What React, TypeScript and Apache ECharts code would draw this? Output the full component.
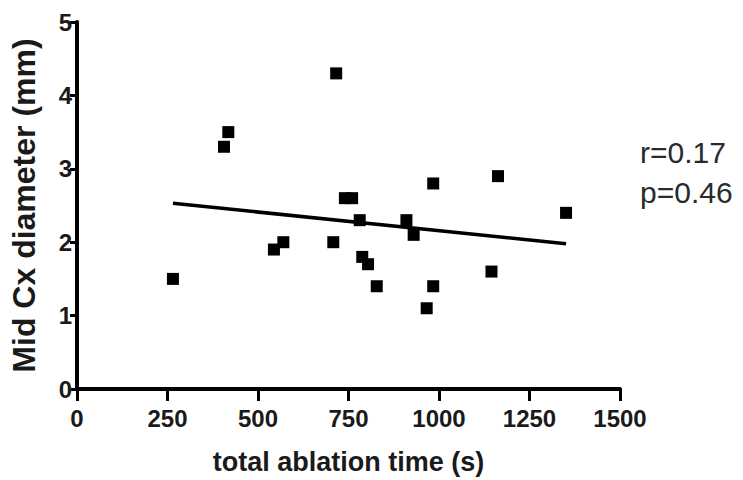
import React, { useEffect, useRef } from "react";
import * as echarts from "echarts";

const ablationTime = [265, 406, 418, 544, 570, 708, 716, 740, 760, 781, 788, 804, 828, 910, 930, 984, 984, 966, 1145, 1163, 1351];
const cxDiameter = [1.5, 3.3, 3.5, 1.9, 2.0, 2.0, 4.3, 2.6, 2.6, 2.3, 1.8, 1.7, 1.4, 2.3, 2.1, 2.8, 1.4, 1.1, 1.6, 2.9, 2.4];
const fitLineX = [265, 1351];
const fitLineY = [2.53, 1.98];
const statsLines = ["r=0.17", "p=0.46"];
const xTitle = "total ablation time (s)";
const yTitle = "Mid Cx diameter (mm)";

const FONT = "'Liberation Sans', Arial, sans-serif";

export default function App() {
  const ref = useRef<HTMLDivElement>(null);
  useEffect(() => {
    if (!ref.current) return;
    const chart = echarts.init(ref.current, undefined, { renderer: "svg" });
    chart.setOption({
      animation: false,
      backgroundColor: "#fff",
      grid: { left: 77, right: 123, top: 22, bottom: 89, containLabel: false },
      xAxis: {
        type: "value",
        min: 0,
        max: 1500,
        interval: 250,
        name: xTitle,
        nameLocation: "middle",
        nameGap: 59,
        nameTextStyle: { fontFamily: FONT, fontWeight: "bold", fontSize: 27, color: "#1a1a1a" },
        axisLine: { show: true, lineStyle: { color: "#000", width: 4 } },
        axisTick: { show: true, length: 12, lineStyle: { color: "#000", width: 3 } },
        axisLabel: {
          margin: 17,
          fontFamily: FONT,
          fontWeight: "bold",
          fontSize: 24,
          color: "#1a1a1a",
          formatter: (v: number) => String(v),
        },
        splitLine: { show: false },
      },
      yAxis: {
        type: "value",
        min: 0,
        max: 5,
        interval: 1,
        name: yTitle,
        nameLocation: "middle",
        nameGap: 37,
        nameTextStyle: { fontFamily: FONT, fontWeight: "bold", fontSize: 32, color: "#1a1a1a" },
        axisLine: { show: true, lineStyle: { color: "#000", width: 4 } },
        axisTick: { show: true, length: 7, lineStyle: { color: "#000", width: 3 } },
        axisLabel: {
          margin: 5,
          fontFamily: FONT,
          fontWeight: "bold",
          fontSize: 24,
          color: "#1a1a1a",
          formatter: (v: number) => String(v),
        },
        splitLine: { show: false },
      },
      series: [
        {
          type: "scatter",
          symbol: "rect",
          symbolSize: 12,
          itemStyle: { color: "#000", opacity: 1 },
          data: ablationTime.map((x, i) => [x, cxDiameter[i]]),
          z: 3,
        },
        {
          type: "line",
          showSymbol: false,
          symbol: "none",
          lineStyle: { color: "#000", width: 3.5 },
          data: fitLineX.map((x, i) => [x, fitLineY[i]]),
          z: 2,
        },
      ],
      graphic: statsLines.map((t, i) => ({
        type: "text",
        left: 640,
        top: 137 + i * 40,
        style: { text: t, fontFamily: FONT, fontSize: 30, fill: "#2a2a2a" },
      })),
    });
    return () => chart.dispose();
  }, []);
  return <div ref={ref} style={{ position: "fixed", left: 0, top: 0, width: 743, height: 480 }} />;
}
